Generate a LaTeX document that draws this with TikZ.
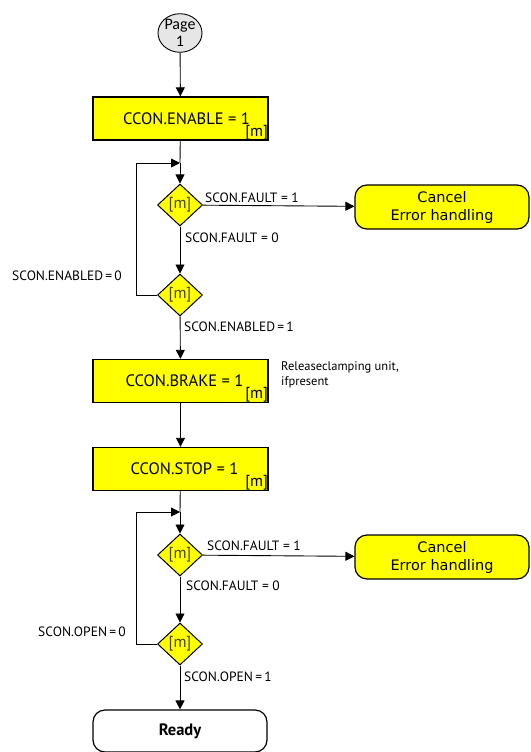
\documentclass[tikz,border=0pt]{standalone}
\usepackage{fontspec}
\setmainfont{PT Sans}
\newfontfamily\pagefont{Carlito}
\newfontfamily\cancelfont{DejaVu Sans}
\usetikzlibrary{shapes.geometric,arrows.meta}
\definecolor{stepyellow}{RGB}{255,255,0}
\definecolor{pagegrey}{RGB}{230,230,230}
\definecolor{mdark}{RGB}{75,68,0}
\tikzset{
  flow/.style={draw=black, line width=0.9pt, -{Triangle[length=9pt,width=9pt]}},
  plain/.style={draw=black, line width=0.9pt},
  actbox/.style={draw=black, line width=1.4pt, fill=stepyellow, minimum width=175, minimum height=43, inner sep=0pt, font=\fontsize{16.5}{18}\selectfont},
  decide/.style={diamond, draw=black, line width=1pt, fill=stepyellow, minimum width=45, minimum height=42, inner sep=0pt, font=\fontsize{16}{18}\selectfont, text=mdark},
  mtag/.style={inner sep=0.5pt, font=\fontsize{16}{18}\selectfont},
  endbox/.style={draw=black, line width=1.2pt, rounded corners=12pt, minimum width=174, minimum height=44, inner sep=0pt, align=center},
  cond/.style={inner sep=0pt, font=\fontsize{13.5}{15}\selectfont}
}
\begin{document}
\begin{tikzpicture}[x=1pt,y=-1pt]
\useasboundingbox (0,0) rectangle (530,752);

% start connector
\node[ellipse, draw=black, line width=0.9pt, fill=pagegrey, minimum width=44, minimum height=38, inner sep=0pt, align=center, font=\pagefont\fontsize{16}{17}\selectfont] (page) at (180,33) {Page\\1};

% action steps
\node[actbox] (enable) at (180.5,118.5) {\hspace{12pt}CCON.ENABLE = 1};
\node[mtag, anchor=south east] at (enable.south east) {[m]};
\node[actbox] (brake) at (180.5,381) {\hspace{8pt}CCON.BRAKE = 1};
\node[mtag, anchor=south east] at (brake.south east) {[m]};
\node[actbox] (stop) at (180.5,469) {\hspace{8pt}CCON.STOP = 1};
\node[mtag, anchor=south east] at (stop.south east) {[m]};

% decisions
\node[decide] (d1) at (180,205) {[m]};
\node[decide] (d2) at (180,295) {[m]};
\node[decide] (d3) at (180,555) {[m]};
\node[decide] (d4) at (180,644) {[m]};

% terminals
\node[endbox, fill=stepyellow, font=\cancelfont\fontsize{14.5}{18}\selectfont] (cancel1) at (442,207) {Cancel\\Error handling};
\node[endbox, fill=stepyellow, font=\cancelfont\fontsize{14.5}{18}\selectfont] (cancel2) at (442,557) {Cancel\\Error handling};
\node[endbox, fill=white, minimum height=42, font=\bfseries\fontsize{16.5}{18}\selectfont] (ready) at (180,731) {Ready};

% loop-back joints
\coordinate (j1) at (180,163);
\coordinate (j2) at (180,512);

% main flow
\draw[flow] (page) -- (enable);
\draw[plain] (enable) -- (j1);
\draw[flow] (j1) -- (d1);
\draw[flow] (d1) -- (cancel1);
\draw[flow] (d1) -- (d2);
\draw[flow] (d2) -- (brake);
\draw[flow] (brake) -- (stop);
\draw[plain] (stop) -- (j2);
\draw[flow] (j2) -- (d3);
\draw[flow] (d3) -- (cancel2);
\draw[flow] (d3) -- (d4);
\draw[flow] (d4) -- (ready);

% wait loops
\draw[flow] (d2.west) -- (136,295) -- (136,163) -- (j1);
\draw[flow] (d4.west) -- (136,644) -- (136,512) -- (j2);

% conditions
\node[cond, anchor=west] (c1) at (205,198) {SCON.FAULT = 1};
\node[cond, anchor=west] (c2) at (185,238) {SCON.FAULT = 0};
\node[cond] (c3) at (67,276) {SCON.ENABLED\,=\,0};
\node[cond, anchor=west] (c4) at (184,327) {SCON.ENABLED\,=\,1};
\node[cond, anchor=west] (c5) at (207,546) {SCON.FAULT = 1};
\node[cond, anchor=west] (c6) at (186,586) {SCON.FAULT = 0};
\node[cond] (c7) at (82,632) {SCON.OPEN\,=\,0};
\node[cond, anchor=west] (c8) at (184,677) {SCON.OPEN\,=\,1};

% note beside the brake step
\node[inner sep=0pt, anchor=north west, align=left, font=\fontsize{12.5}{15}\selectfont] (note) at (281,361) {Releaseclamping unit,\\ifpresent};
\end{tikzpicture}
\end{document}
